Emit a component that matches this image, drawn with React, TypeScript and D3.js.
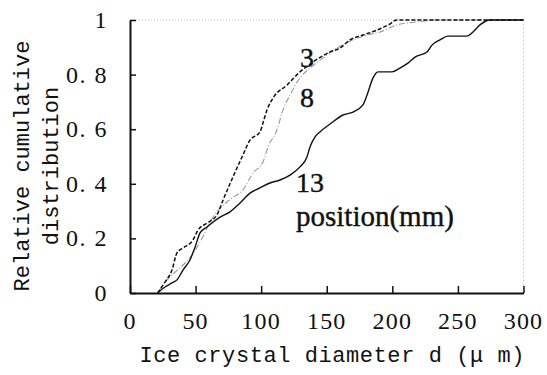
import React, { useRef, useEffect } from "react";
import * as d3 from "d3";

// cumulative distribution per position, [diameter um, fraction]
const pos3: [number, number][] = [
  [21, 0], [26.7, 0.04], [32, 0.084], [35.8, 0.147], [40.4, 0.165], [48, 0.194],
  [51.8, 0.23], [58.7, 0.256], [66.3, 0.286], [70.9, 0.34], [78.5, 0.425],
  [85.4, 0.498], [91.5, 0.56], [99.1, 0.59], [101.4, 0.623], [104.4, 0.67],
  [109, 0.714], [119.7, 0.762], [129.6, 0.81], [139.5, 0.846], [152.5, 0.883],
  [160, 0.897], [167.7, 0.927], [177.6, 0.945], [188.3, 0.963], [197, 0.982],
  [203.5, 1], [300, 1],
];

const pos8: [number, number][] = [
  [21, 0], [28.2, 0.048], [38.1, 0.092], [47.3, 0.139], [54.9, 0.2], [61, 0.26],
  [68.6, 0.31], [77.8, 0.348], [86.1, 0.377], [93.8, 0.44], [101.4, 0.48],
  [105.2, 0.535], [112, 0.597], [116.6, 0.67], [122, 0.725], [129.6, 0.788],
  [137.2, 0.824], [147.1, 0.861], [157.8, 0.897], [170, 0.927], [180.7, 0.945],
  [190.6, 0.956], [203.5, 0.982], [218.8, 0.993], [236, 1], [300, 1],
];

const pos13: [number, number][] = [
  [21, 0], [26.7, 0.022], [32, 0.037], [35.8, 0.048], [40.4, 0.084], [45.7, 0.121],
  [49.6, 0.168], [53.4, 0.22], [58.7, 0.242], [68.6, 0.278], [76.2, 0.297],
  [83.9, 0.33], [91.5, 0.366], [99.1, 0.385], [106.7, 0.403], [114.4, 0.414],
  [122, 0.432], [129.6, 0.462], [134.9, 0.498], [137.2, 0.535], [141, 0.571],
  [144.8, 0.59], [152.5, 0.619], [162.4, 0.652], [170, 0.663], [177.6, 0.689],
  [180.7, 0.725], [185.3, 0.788], [189.1, 0.81], [199.7, 0.81], [205.8, 0.824],
  [211.9, 0.842], [217.3, 0.864], [226.4, 0.883], [230.2, 0.908], [236.3, 0.927],
  [242.4, 0.941], [256.9, 0.941], [261.5, 0.956], [266.8, 0.982], [274.5, 1],
  [300, 1],
];

const xTicks = [0, 50, 100, 150, 200, 250, 300];
const yTicks = [0, 0.2, 0.4, 0.6, 0.8, 1];

const seriesLabels = [
  { text: "3", x: 307, y: 67 },
  { text: "8", x: 307, y: 107 },
  { text: "13", x: 310, y: 192 },
];

const App = () => {
  const svgRef = useRef<SVGSVGElement>(null);

  useEffect(() => {
    const svg = d3.select(svgRef.current);
    svg.selectAll("*").remove();

    const x = d3.scaleLinear().domain([0, 300]).range([130, 523.5]);
    const y = d3.scaleLinear().domain([0, 1]).range([293, 20]);

    const serif = "'Liberation Serif', 'Times New Roman', serif";
    const mono = "'Liberation Mono', monospace";

    // dotted top and right border
    svg.append("line")
      .attr("x1", x(0)).attr("x2", x(300)).attr("y1", y(1)).attr("y2", y(1))
      .attr("stroke", "#bbb").attr("stroke-width", 1).attr("stroke-dasharray", "1,2");
    svg.append("line")
      .attr("x1", x(300)).attr("x2", x(300)).attr("y1", y(1)).attr("y2", y(0))
      .attr("stroke", "#bbb").attr("stroke-width", 1).attr("stroke-dasharray", "1,3");

    const line = d3.line<[number, number]>()
      .x((d) => x(d[0]))
      .y((d) => y(d[1]))
      .curve(d3.curveMonotoneX);

    svg.append("path").attr("d", line(pos8)!)
      .attr("fill", "none").attr("stroke", "#999").attr("stroke-width", 1.1)
      .attr("stroke-dasharray", "1,2,6,2");
    svg.append("path").attr("d", line(pos3)!)
      .attr("fill", "none").attr("stroke", "#111").attr("stroke-width", 1.5)
      .attr("stroke-dasharray", "4,2");
    svg.append("path").attr("d", line(pos13)!)
      .attr("fill", "none").attr("stroke", "#111").attr("stroke-width", 1.4);

    // axes
    const gx = svg.append("g").attr("transform", `translate(0,${y(0)})`)
      .call(d3.axisBottom(x).tickValues(xTicks).tickSizeInner(-7).tickSizeOuter(0).tickFormat(() => ""));
    gx.select(".domain").attr("stroke", "#111").attr("stroke-width", 2);
    gx.selectAll(".tick line").attr("stroke", "#111").attr("stroke-width", 1.5);

    const gy = svg.append("g").attr("transform", `translate(${x(0)},0)`)
      .call(d3.axisLeft(y).tickValues(yTicks).tickSizeInner(-6).tickSizeOuter(0).tickFormat(() => ""));
    gy.select(".domain").attr("stroke", "#111").attr("stroke-width", 2);
    gy.selectAll(".tick line").attr("stroke", "#111").attr("stroke-width", 1.5);

    // tick labels
    svg.append("g").selectAll("text").data(xTicks).join("text")
      .attr("x", (d) => x(d)).attr("y", 329)
      .attr("text-anchor", "middle")
      .attr("font-family", serif).attr("font-size", 24)
      .attr("letter-spacing", 1.2)
      .attr("fill", "#111")
      .text((d) => String(d));

    svg.append("g").selectAll("text").data(yTicks).join("text")
      .attr("x", 108).attr("y", (d) => y(d) + 8)
      .attr("text-anchor", "end")
      .attr("font-family", serif).attr("font-size", 24)
      .attr("letter-spacing", 1.5)
      .attr("fill", "#111")
      .text((d) => (d === 0 || d === 1 ? String(d) : d3.format(".1f")(d).replace(".", ". ")));

    // axis titles
    svg.append("text")
      .attr("x", 332).attr("y", 362)
      .attr("text-anchor", "middle")
      .attr("font-family", mono).attr("font-size", 22)
      .attr("textLength", 385).attr("lengthAdjust", "spacing")
      .attr("fill", "#111")
      .text("Ice crystal diameter d (μ m)");

    svg.append("text")
      .attr("transform", "translate(29,166) rotate(-90)")
      .attr("text-anchor", "middle")
      .attr("font-family", mono).attr("font-size", 22)
      .attr("fill", "#111")
      .text("Relative cumulative");
    svg.append("text")
      .attr("transform", "translate(58,166) rotate(-90)")
      .attr("text-anchor", "middle")
      .attr("font-family", mono).attr("font-size", 22)
      .attr("fill", "#111")
      .text("distribution");

    // series labels
    svg.append("g").selectAll("text").data(seriesLabels).join("text")
      .attr("x", (d) => d.x).attr("y", (d) => d.y)
      .attr("text-anchor", "middle")
      .attr("font-family", serif).attr("font-size", 28)
      .attr("fill", "#111").attr("stroke", "#111").attr("stroke-width", 0.4)
      .text((d) => d.text);

    svg.append("text")
      .attr("x", 296).attr("y", 226)
      .attr("font-family", serif).attr("font-size", 29)
      .attr("fill", "#111").attr("stroke", "#111").attr("stroke-width", 0.4)
      .text("position(mm)");
  }, []);

  return (
    <svg
      ref={svgRef}
      width={547}
      height={375}
      style={{ position: "absolute", left: 0, top: 0, background: "#fff" }}
    ></svg>
  );
};

export default App;
